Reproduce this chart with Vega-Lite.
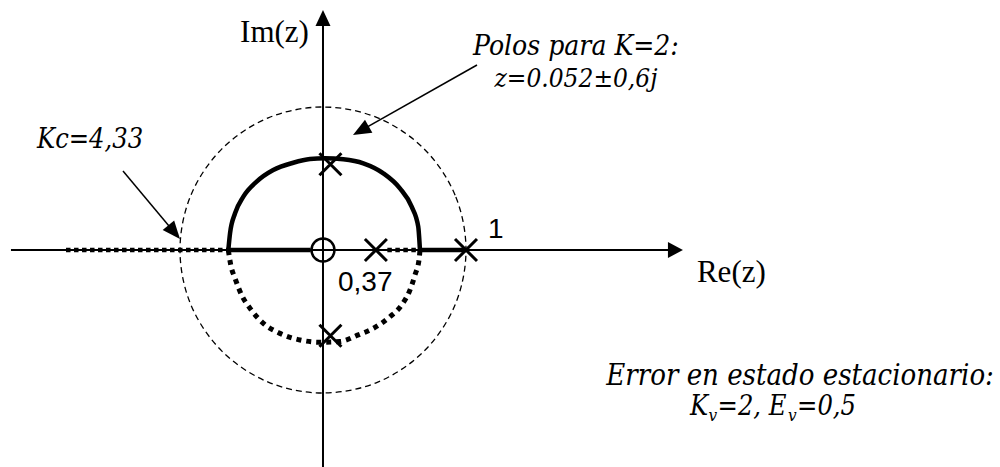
{
  "$schema": "https://vega.github.io/schema/vega-lite/v6.json",
  "width": 1000,
  "height": 467,
  "padding": 0,
  "autosize": {"type": "none"},
  "background": "white",
  "config": {"view": {"stroke": null}},
  "datasets": {
    "unitCircle": [
      {"i": 0, "x": 1, "y": 0}, {"i": 1, "x": 0.924, "y": 0.383}, {"i": 2, "x": 0.707, "y": 0.707}, {"i": 3, "x": 0.383, "y": 0.924},
      {"i": 4, "x": 0, "y": 1}, {"i": 5, "x": -0.383, "y": 0.924}, {"i": 6, "x": -0.707, "y": 0.707}, {"i": 7, "x": -0.924, "y": 0.383},
      {"i": 8, "x": -1, "y": 0}, {"i": 9, "x": -0.924, "y": -0.383}, {"i": 10, "x": -0.707, "y": -0.707}, {"i": 11, "x": -0.383, "y": -0.924},
      {"i": 12, "x": 0, "y": -1}, {"i": 13, "x": 0.383, "y": -0.924}, {"i": 14, "x": 0.707, "y": -0.707}, {"i": 15, "x": 0.924, "y": -0.383}
    ],
    "axes": [
      {"x": -2.182, "y": 0, "x2": 2.46, "y2": 0},
      {"x": 0, "y": -1.52, "x2": 0, "y2": 1.62}
    ],
    "upperBranch": [
      {"i": 0, "x": -0.662, "y": 0}, {"i": 1, "x": -0.65, "y": 0.117}, {"i": 2, "x": -0.615, "y": 0.257},
      {"i": 3, "x": -0.557, "y": 0.373}, {"i": 4, "x": -0.464, "y": 0.478}, {"i": 5, "x": -0.348, "y": 0.559},
      {"i": 6, "x": -0.208, "y": 0.61}, {"i": 7, "x": -0.091, "y": 0.636}, {"i": 8, "x": 0.014, "y": 0.641},
      {"i": 9, "x": 0.142, "y": 0.634}, {"i": 10, "x": 0.282, "y": 0.606}, {"i": 11, "x": 0.422, "y": 0.536},
      {"i": 12, "x": 0.538, "y": 0.431}, {"i": 13, "x": 0.62, "y": 0.303}, {"i": 14, "x": 0.666, "y": 0.163},
      {"i": 15, "x": 0.678, "y": 0}
    ],
    "lowerBranch": [
      {"i": 0, "x": -0.662, "y": 0}, {"i": 1, "x": -0.645, "y": -0.105}, {"i": 2, "x": -0.615, "y": -0.198},
      {"i": 3, "x": -0.569, "y": -0.315}, {"i": 4, "x": -0.51, "y": -0.408}, {"i": 5, "x": -0.417, "y": -0.513},
      {"i": 6, "x": -0.301, "y": -0.583}, {"i": 7, "x": -0.161, "y": -0.629}, {"i": 8, "x": -0.021, "y": -0.645},
      {"i": 9, "x": 0.119, "y": -0.64}, {"i": 10, "x": 0.247, "y": -0.594}, {"i": 11, "x": 0.352, "y": -0.548},
      {"i": 12, "x": 0.469, "y": -0.466}, {"i": 13, "x": 0.55, "y": -0.385}, {"i": 14, "x": 0.608, "y": -0.28},
      {"i": 15, "x": 0.643, "y": -0.175}, {"i": 16, "x": 0.673, "y": -0.058}, {"i": 17, "x": 0.678, "y": 0}
    ],
    "solidReal": [
      {"x": -0.662, "y": 0, "x2": -0.086, "y2": 0},
      {"x": 0.678, "y": 0, "x2": 1.0, "y2": 0}
    ],
    "dottedReal": [
      {"x": -1.797, "y": 0, "x2": -0.662, "y2": 0},
      {"x": 0.45, "y": 0, "x2": 0.678, "y2": 0}
    ],
    "pointers": [
      {"x": -1.3986, "y": 0.5524, "x2": -1.02, "y2": 0.1},
      {"x": 1.0769, "y": 1.2937, "x2": 0.23, "y2": 0.816}
    ],
    "poles": [
      {"x": 1, "y": 0}, {"x": 0.37, "y": 0}, {"x": 0.052, "y": 0.6}, {"x": 0.052, "y": -0.6}
    ],
    "zeros": [{"x": 0, "y": 0}],
    "headRe": [{"x": 2.517, "y": 0}],
    "headIm": [{"x": 0, "y": 1.678}],
    "headKc": [{"x": -1.0, "y": 0.0769}],
    "headPolos": [{"x": 0.2098, "y": 0.8042}],
    "serifLabels": [
      {"x": -0.58, "y": 1.455, "t": "Im(z)"},
      {"x": 2.615, "y": -0.224, "t": "Re(z)"}
    ],
    "sansLabels": [
      {"x": 1.154, "y": 0.084, "t": "1"},
      {"x": 0.105, "y": -0.287, "t": "0,37"}
    ],
    "polosTitle": [
      {"x": 1.769, "y": 1.364, "t": "Polos para K=2:"}
    ],
    "polosValue": [
      {"x": 1.769, "y": 1.14, "t": "z=0.052±0,6j"}
    ],
    "errorTitle": [
      {"x": 3.336, "y": -0.944, "t": "Error en estado estacionario:"}
    ],
    "notesLeft": [
      {"x": -2.0, "y": 0.713, "t": "Kc=4,33"},
      {"x": 2.566, "y": -1.154, "t": "K"},
      {"x": 2.759, "y": -1.154, "t": "=2, E"},
      {"x": 3.315, "y": -1.154, "t": "=0,5"}
    ],
    "subscripts": [
      {"x": 2.696, "y": -1.196, "t": "v"},
      {"x": 3.252, "y": -1.196, "t": "v"}
    ]
  },
  "encoding": {
    "x": {"field": "x", "type": "quantitative", "scale": {"domain": [-2.2587, 4.7343], "nice": false, "zero": false}, "axis": null},
    "y": {"field": "y", "type": "quantitative", "scale": {"domain": [-1.5175, 1.7483], "nice": false, "zero": false}, "axis": null}
  },
  "layer": [
    {
      "data": {"name": "unitCircle"},
      "mark": {"type": "line", "interpolate": "cardinal-closed", "color": "black", "strokeWidth": 1.3, "strokeDash": [6, 4]},
      "encoding": {"order": {"field": "i", "type": "quantitative"}}
    },
    {
      "data": {"name": "axes"},
      "mark": {"type": "rule", "color": "black", "strokeWidth": 2},
      "encoding": {"x2": {"field": "x2"}, "y2": {"field": "y2"}}
    },
    {
      "data": {"name": "headRe"},
      "mark": {"type": "point", "shape": "M0,0L-15,-8L-15,8Z", "size": 4, "filled": true, "color": "black", "opacity": 1, "strokeWidth": 0}
    },
    {
      "data": {"name": "headIm"},
      "mark": {"type": "point", "shape": "M0,0L-16,-7.5L-16,7.5Z", "angle": 270, "size": 4, "filled": true, "color": "black", "opacity": 1, "strokeWidth": 0}
    },
    {
      "data": {"name": "pointers"},
      "mark": {"type": "rule", "color": "black", "strokeWidth": 1.5},
      "encoding": {"x2": {"field": "x2"}, "y2": {"field": "y2"}}
    },
    {
      "data": {"name": "headKc"},
      "mark": {"type": "point", "shape": "M0,0L-18,-7.5L-18,7.5Z", "angle": 50, "size": 4, "filled": true, "color": "black", "opacity": 1, "strokeWidth": 0}
    },
    {
      "data": {"name": "headPolos"},
      "mark": {"type": "point", "shape": "M0,0L-18,-7.5L-18,7.5Z", "angle": 150.6, "size": 4, "filled": true, "color": "black", "opacity": 1, "strokeWidth": 0}
    },
    {
      "data": {"name": "dottedReal"},
      "mark": {"type": "rule", "color": "black", "strokeWidth": 4.5, "strokeDash": [4.5, 3.5], "strokeCap": "butt"},
      "encoding": {"x2": {"field": "x2"}, "y2": {"field": "y2"}}
    },
    {
      "data": {"name": "solidReal"},
      "mark": {"type": "rule", "color": "black", "strokeWidth": 4.5},
      "encoding": {"x2": {"field": "x2"}, "y2": {"field": "y2"}}
    },
    {
      "data": {"name": "upperBranch"},
      "mark": {"type": "line", "interpolate": "monotone", "color": "black", "strokeWidth": 4.5},
      "encoding": {"order": {"field": "i", "type": "quantitative"}}
    },
    {
      "data": {"name": "lowerBranch"},
      "mark": {"type": "line", "interpolate": "monotone", "color": "black", "strokeWidth": 5, "strokeDash": [5, 5], "strokeCap": "butt"},
      "encoding": {"order": {"field": "i", "type": "quantitative"}}
    },
    {
      "data": {"name": "zeros"},
      "mark": {"type": "point", "shape": "circle", "size": 529, "filled": false, "color": "black", "opacity": 1, "strokeWidth": 2.5}
    },
    {
      "data": {"name": "poles"},
      "mark": {"type": "point", "shape": "M-11,-11L11,11M-11,11L11,-11", "size": 4, "filled": false, "color": "black", "opacity": 1, "strokeWidth": 3}
    },
    {
      "data": {"name": "serifLabels"},
      "mark": {"type": "text", "align": "left", "baseline": "alphabetic", "font": "Liberation Serif", "fontSize": 31, "color": "black"},
      "encoding": {"text": {"field": "t"}}
    },
    {
      "data": {"name": "sansLabels"},
      "mark": {"type": "text", "align": "left", "baseline": "alphabetic", "font": "Liberation Sans", "fontSize": 28, "color": "black"},
      "encoding": {"text": {"field": "t"}}
    },
    {
      "data": {"name": "polosTitle"},
      "mark": {"type": "text", "align": "center", "baseline": "alphabetic", "font": "DejaVu Serif Condensed", "fontStyle": "italic", "fontSize": 28, "color": "black"},
      "encoding": {"text": {"field": "t"}}
    },
    {
      "data": {"name": "polosValue"},
      "mark": {"type": "text", "align": "center", "baseline": "alphabetic", "font": "DejaVu Serif Condensed", "fontStyle": "italic", "fontSize": 26, "color": "black"},
      "encoding": {"text": {"field": "t"}}
    },
    {
      "data": {"name": "errorTitle"},
      "mark": {"type": "text", "align": "center", "baseline": "alphabetic", "font": "DejaVu Serif Condensed", "fontStyle": "italic", "fontSize": 29, "color": "black"},
      "encoding": {"text": {"field": "t"}}
    },
    {
      "data": {"name": "notesLeft"},
      "mark": {"type": "text", "align": "left", "baseline": "alphabetic", "font": "DejaVu Serif Condensed", "fontStyle": "italic", "fontSize": 27, "color": "black"},
      "encoding": {"text": {"field": "t"}}
    },
    {
      "data": {"name": "subscripts"},
      "mark": {"type": "text", "align": "left", "baseline": "alphabetic", "font": "DejaVu Serif Condensed", "fontStyle": "italic", "fontSize": 17, "color": "black"},
      "encoding": {"text": {"field": "t"}}
    }
  ]
}
